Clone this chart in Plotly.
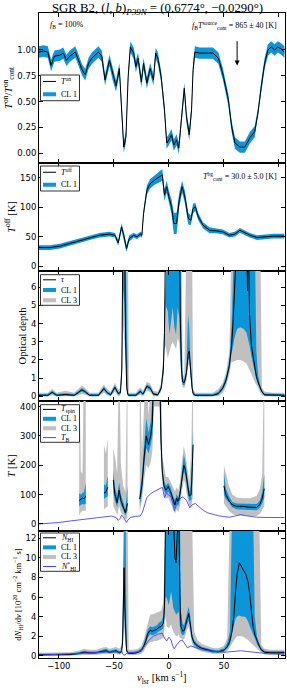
import plotly.graph_objects as go
from plotly.subplots import make_subplots

# ---------------- data ----------------
# Panel 1: T_on / T_on_cont
v_on = [-118, -114, -110, -107, -104, -99, -96, -93, -90, -85,
        -82, -79, -76, -73, -70, -64, -61, -58, -54, -51,
        -48, -45, -43, -41, -39, -37, -35, -32, -30, -28,
        -25, -23, -20, -17, -14, -12, -10, -7, -4, -2,
        0, 2.4, 4.5, 7, 9, 11, 14, 16, 18.5, 20.6,
        22, 23.6, 28, 34, 40, 45, 49, 54, 57, 60,
        64.5, 69, 73.6, 78, 81, 84, 87, 90, 93, 96,
        99, 102, 105]
ton = [0.98, 0.99, 0.98, 0.85, 0.94, 0.95, 0.97, 0.90, 0.94, 0.98,
       0.90, 0.81, 0.76, 0.87, 0.92, 0.98, 0.94, 0.71, 0.90, 0.76,
       0.65, 0.82, 0.42, 0.06, 0.16, 0.74, 1.03, 0.97, 0.84, 0.92,
       0.69, 0.87, 0.68, 0.82, 0.71, 0.97, 0.92, 0.74, 0.42, 0.10,
       0.13, 0.18, 0.08, 0.13, 0.05, 0.29, 0.63, 0.35, 0.18, 0.42,
       0.81, 0.98, 0.97, 0.97, 0.97, 0.92, 0.77, 0.52, 0.26, 0.10,
       0.06, 0.06, 0.15, 0.21, 0.39, 0.65, 0.87, 1.00, 1.03, 1.00,
       1.03, 1.01, 0.98]
ton_err = 0.055

# Panel 2: T_off
v_off = [-118, -108, -99, -90, -81, -72, -63, -54, -49, -46,
         -43, -41, -38.5, -36, -32, -29, -26, -24.5, -23, -20,
         -17, -13, -8, -6, -4, -2, 0, 2.4, 4.5, 7,
         9.4, 12, 14.5, 17.6, 20, 22, 24, 26.7, 31, 37,
         43, 49, 55, 60, 64.5, 69, 73.6, 80, 86, 95,
         105]
toff = [31.7, 31.7, 34, 38.5, 44, 48.7, 52.6, 54.4, 52.6, 39.6,
        66.8, 52.6, 30, 47, 52.6, 50, 54.4, 52.6, 89.5, 129,
        140, 146, 152, 155, 120.6, 134.8, 117.8, 100.8, 72.5, 72.5,
        112, 134.8, 117.8, 81, 78, 98, 100.8, 84, 69.6, 61,
        60, 58.3, 52.6, 54.4, 61, 56.6, 52.6, 48.7, 50, 51,
        51]
toff_err = [4, 4, 4, 4, 4, 4, 4, 4, 4, 5,
            6, 6, 6, 5, 4, 4, 4, 4, 6, 8,
            8, 8, 9, 10, 10, 10, 10, 12, 18, 18,
            12, 10, 10, 10, 8, 8, 7, 6, 5, 5,
            4, 4, 4, 4, 4, 4, 4, 4, 4, 4,
            4]

# Panel 3: optical depth
v_tau = [-118, -110, -106, -102, -94, -86, -82, -79, -76, -72,
         -64, -59, -56, -53, -49, -46, -44, -42.7, -41.8, -40.3,
         -39.3, -38.3, -37.3, -36.3, -30, -26, -23.5, -20, -17, -14,
         -10, -7, -5, -4, -3, -1, 0.5, 2, 3.5, 5,
         6.5, 8, 9.5, 10.5, 11.5, 12.5, 14, 16, 17.5, 18.5,
         19.5, 21, 22, 24, 40, 45, 49, 52, 55, 57,
         58.5, 59.5, 62, 65, 68, 70.5, 71.5, 72.3, 73.3, 75,
         76.5, 78, 79.5, 81, 83, 84.5, 87, 95, 105]
tau = [0.05, 0.05, 0.22, 0.05, 0.1, 0.05, 0.22, 0.35, 0.25, 0.05,
       0.05, 0.42, 0.2, 0.08, 0.5, 0.15, 0.2, 1.5, 9, 9,
       3.0, 0.5, 0.1, 0.05, 0.05, 0.27, 0.12, 0.55, 0.45, 0.12,
       0.08, 0.45, 1.5, 3.5, 9, 9, 9, 9, 9, 9,
       9, 9, 9, 4.0, 1.5, 0.8, 0.75, 1.3, 2.3, 2.5,
       1.5, 0.5, 0.15, 0.05, 0.05, 0.15, 0.45, 0.9, 1.7, 2.8,
       4.3, 9, 9, 9, 9, 9, 5.8, 9, 4.5, 2.8,
       2.2, 1.6, 1.1, 0.8, 0.45, 0.25, 0.08, 0.05, 0.05]
tau_cl1_lo = [0.0, 0.0, 0.15, 0.0, 0.03, 0.0, 0.15, 0.27, 0.17, 0.0,
              0.0, 0.33, 0.12, 0.02, 0.4, 0.08, 0.12, 1.1, 6, 5,
              2.2, 0.35, 0.03, 0.0, 0.0, 0.18, 0.05, 0.45, 0.35, 0.05,
              0.02, 0.35, 1.2, 3.0, 5.0, 4.7, 3.4, 4.1, 4.9, 3.8,
              3.4, 4.9, 4.3, 2.0, 1.0, 0.65, 0.6, 1.1, 2.0, 2.1,
              1.2, 0.4, 0.08, 0.0, 0.0, 0.08, 0.35, 0.75, 1.5, 2.4,
              2.8, 3.2, 3.7, 3.8, 3.7, 3.5, 3.3, 3.1, 2.8, 2.2,
              1.8, 1.3, 0.9, 0.65, 0.35, 0.17, 0.02, 0.0, 0.0]
tau_cl1_hi = [0.12, 0.12, 0.3, 0.12, 0.17, 0.12, 0.3, 0.45, 0.33, 0.12,
              0.12, 0.52, 0.28, 0.15, 0.6, 0.22, 0.3, 2.2, 9, 9,
              9, 4.3, 0.2, 0.12, 0.12, 0.36, 0.2, 0.65, 0.55, 0.2,
              0.15, 0.55, 1.9, 4.3, 9, 9, 9, 9, 9, 9,
              9, 9, 9, 9, 3.0, 1.0, 0.9, 1.6, 4.5, 3.8,
              2.0, 0.7, 0.25, 0.12, 0.12, 0.25, 0.6, 1.1, 2.0, 4.0,
              9, 9, 9, 9, 9, 9, 9, 9, 9, 9,
              9, 9, 2.5, 1.2, 0.6, 0.35, 0.15, 0.12, 0.12]
tau_cl3_lo = [0.0, 0.0, 0.05, 0.0, 0.0, 0.0, 0.05, 0.12, 0.08, 0.0,
              0.0, 0.2, 0.05, 0.0, 0.25, 0.0, 0.05, 0.9, 4, 3,
              1.6, 0.2, 0.0, 0.0, 0.0, 0.08, 0.0, 0.3, 0.22, 0.0,
              0.0, 0.25, 1.0, 2.5, 2.8, 2.1, 2.5, 2.8, 3.0, 2.8,
              2.6, 3.2, 2.9, 1.6, 0.8, 0.5, 0.45, 0.9, 1.7, 1.8,
              1.0, 0.25, 0.0, 0.0, 0.0, 0.0, 0.2, 0.55, 1.2, 1.9,
              1.9, 1.9, 2.0, 2.0, 1.9, 1.8, 1.7, 1.6, 1.5, 1.2,
              1.0, 0.8, 0.6, 0.45, 0.2, 0.08, 0.0, 0.0, 0.0]
tau_cl3_hi = [0.2, 0.2, 0.4, 0.2, 0.3, 0.2, 0.42, 0.6, 0.45, 0.2,
              0.2, 0.65, 0.4, 0.25, 0.75, 0.35, 0.45, 2.8, 9, 9,
              9, 9, 9, 0.2, 0.2, 0.5, 0.3, 0.8, 0.7, 0.3,
              0.25, 0.7, 2.3, 5.0, 9, 9, 9, 9, 9, 9,
              9, 9, 9, 9, 9, 1.2, 1.1, 9, 9, 9,
              9, 9, 0.4, 0.2, 0.2, 0.4, 0.75, 1.35, 2.5, 9,
              9, 9, 9, 9, 9, 9, 9, 9, 9, 9,
              9, 9, 9, 9, 9, 0.5, 0.25, 0.2, 0.2]

# Panel 4: spin temperature (None = no value) and T_B
v_ts = [-81.5, -80, -78.5, -77, -75.5, None,
        -59, -57.3, -55.5, None,
        -50.5, -49, -47, -45.2, -43.6, -41.5, -39.5, -37.6, None,
        -26.5, -24.5, -22.5, -20.5, -18.5, -16.5, -15, -13.5, -8.5, -7.3,
        -6, -4.5, -2.7, -0.6, 1.5, 3.3, 5.5, 7, 8.5, 10,
        11.8, 13.6, 15, 16.7, 18.5, 20.3, 22, None,
        50, 51.8, 54.5, 57.6, 61.5, 67.6, 73.6, 79.7, 82.7, 84.8, 86.7]
tspin = [80, 85, 88, 86, 95, None,
         105, 108, 125, None,
         150, 100, 72, 115, 80, 55, 38, 70, None,
         85, 130, 225, 300, 270, 300, 345, 600, 600, 300,
         180, 130, 115, 128, 110, 88, 65, 88, 75, 100,
         160, 200, 185, 135, 95, 100, 270, None,
         130, 100, 80, 65, 60, 60, 57, 56, 66, 88, 120]
ts_cl1_lo = [60, 65, 68, 66, 70, None,
             85, 90, 95, None,
             110, 80, 58, 90, 65, 45, 30, 45, None,
             60, 105, 195, 260, 240, 270, 300, 450, 450, 260,
             165, 115, 100, 110, 95, 75, 50, 70, 60, 85,
             140, 180, 165, 115, 80, 80, 200, None,
             100, 85, 70, 57, 50, 48, 48, 47, 55, 70, 90]
ts_cl1_hi = [105, 100, 105, 110, 140, None,
             135, 130, 165, None,
             185, 125, 95, 140, 100, 70, 50, 130, None,
             110, 165, 270, 360, 310, 350, 420, 600, 600, 360,
             200, 150, 130, 140, 125, 100, 80, 100, 90, 115,
             180, 235, 210, 150, 110, 140, 320, None,
             175, 120, 95, 75, 70, 70, 68, 68, 80, 110, 170]
ts_cl3_lo = [30, 40, 45, 45, 45, None,
             50, 55, 60, None,
             60, 50, 30, 60, 40, 30, 15, 20, None,
             40, 80, 150, 200, 190, 210, 250, 400, 400, 220,
             140, 95, 85, 90, 75, 55, 35, 50, 40, 60,
             110, 150, 135, 90, 60, 55, 100, None,
             70, 60, 45, 35, 28, 28, 27, 27, 35, 50, 60]
ts_cl3_hi = [600, 180, 170, 600, 600, None,
             270, 240, 290, None,
             260, 230, 170, 600, 200, 130, 110, 600, None,
             600, 240, 400, 600, 370, 600, 600, 600, 600, 600,
             230, 190, 160, 160, 145, 130, 110, 125, 115, 140,
             210, 265, 240, 180, 140, 250, 600, None,
             200, 170, 130, 100, 90, 88, 88, 95, 120, 170, 600]
v_tb = [-118, -110, -100, -90, -80, -70, -60, -52, -48, -46,
        -44, -43, -41.5, -40, -38.5, -37, -35, -30, -26, -24,
        -22, -20, -16, -12, -8, -6, -5, -4, -2, 0,
        2, 3.5, 5, 7, 10, 12, 14, 16, 18, 19,
        21, 24, 27, 30, 35, 40, 45, 50, 55, 60,
        65, 70, 75, 80, 90, 105]
tb = [0, 2, 5, 10, 15, 20, 24, 27, 22, 12,
      20, 30, 25, 12, 5, 15, 22, 26, 27, 40,
      70, 90, 105, 112, 120, 125, 110, 90, 105, 100,
      92, 70, 45, 65, 85, 92, 88, 80, 60, 55,
      65, 70, 60, 50, 38, 32, 28, 25, 23, 27,
      32, 28, 25, 23, 22, 22]

# Panel 5: HI column density per velocity
v_nhi = [-118, -100, -90, -82, -77, -72, -66, -60, -57, -54,
         -51, -48, -45, -43, -42, -41.3, -40.7, -40, -39.3, -38.5,
         -37.5, -36.5, -32, -28, -25, -23, -21, -19, -17, -15,
         -13, -11, -9, -7, -5, -4, -3, -2, 0, 2,
         4, 5.5, 6.5, 7.5, 9, 10, 11, 12.5, 14, 16,
         18, 19.5, 21, 23, 26, 30, 35, 40, 45, 50,
         53, 55.5, 57.5, 59, 60.5, 62, 64, 66, 68, 70,
         72, 73.5, 75, 76.5, 78, 80, 82, 84, 87, 92,
         105]
nhi = [0.10, 0.10, 0.12, 0.22, 0.35, 0.30, 0.30, 0.45, 0.50, 0.35,
       0.45, 0.50, 0.30, 0.40, 1.5, 5.0, 9.0, 5.0, 2.0, 0.6,
       0.3, 0.25, 0.25, 0.35, 0.55, 0.9, 1.5, 2.3, 2.6, 2.5,
       2.6, 2.7, 2.9, 3.0, 3.3, 5.0, 15, 15, 15, 15,
       15, 10, 9.5, 12, 15, 6, 3.0, 2.5, 2.6, 3.5,
       4.3, 3.2, 1.9, 1.3, 1.0, 0.75, 0.6, 0.45, 0.4, 0.55,
       0.9, 1.5, 2.6, 4.0, 6.5, 8.3, 9.5, 9.1, 8.8, 8.3,
       7.5, 6.3, 4.5, 3.0, 2.2, 1.5, 1.0, 0.6, 0.35, 0.3,
       0.3]
nhi_cl1_lo = [0.03, 0.03, 0.04, 0.12, 0.22, 0.18, 0.2, 0.3, 0.35, 0.25,
              0.3, 0.35, 0.2, 0.3, 1.0, 3.0, 5.0, 3.0, 1.3, 0.45,
              0.2, 0.15, 0.15, 0.25, 0.4, 0.7, 1.2, 1.9, 2.2, 2.1,
              2.2, 2.3, 2.5, 2.6, 2.8, 4.0, 6.0, 5.9, 5.2, 6.6,
              4.9, 4.5, 4.2, 4.3, 4.5, 3.0, 2.3, 2.1, 2.2, 3.0,
              3.6, 2.7, 1.6, 1.1, 0.8, 0.6, 0.45, 0.3, 0.3, 0.4,
              0.7, 1.2, 2.0, 3.0, 3.8, 4.0, 4.1, 4.0, 4.0, 3.9,
              3.5, 3.0, 2.5, 2.2, 1.8, 1.2, 0.8, 0.45, 0.25, 0.2,
              0.2]
nhi_cl1_hi = [0.2, 0.2, 0.22, 0.35, 0.5, 0.42, 0.42, 0.6, 0.7, 0.5,
              0.6, 0.65, 0.45, 0.6, 3.0, 15, 15, 15, 15, 1.0,
              0.45, 0.4, 0.4, 0.5, 0.75, 1.2, 1.9, 2.7, 3.0, 2.9,
              3.0, 3.1, 3.4, 3.5, 4.0, 8, 15, 15, 15, 15,
              15, 15, 15, 15, 15, 15, 4.5, 3.2, 3.2, 4.2,
              5.0, 4.0, 2.3, 1.6, 1.2, 0.9, 0.75, 0.6, 0.55, 0.75,
              1.3, 2.5, 15, 15, 15, 15, 15, 15, 15, 15,
              15, 15, 15, 15, 4.0, 2.0, 1.3, 0.8, 0.5, 0.45,
              0.45]
nhi_cl3_lo = [0.0, 0.0, 0.0, 0.05, 0.1, 0.08, 0.1, 0.15, 0.2, 0.15,
              0.2, 0.2, 0.1, 0.2, 0.8, 2.0, 3.0, 2.0, 1.0, 0.3,
              0.1, 0.05, 0.05, 0.1, 0.2, 0.4, 0.9, 1.2, 1.4, 1.4,
              1.5, 1.5, 1.6, 1.7, 1.8, 3.0, 4.0, 3.0, 2.8, 3.2,
              2.5, 2.2, 2.0, 2.0, 2.2, 1.8, 1.8, 1.6, 1.7, 2.5,
              3.0, 2.2, 1.3, 0.8, 0.6, 0.4, 0.3, 0.2, 0.2, 0.25,
              0.5, 0.9, 1.3, 1.5, 1.8, 2.0, 2.0, 2.0, 1.9, 1.8,
              1.6, 1.4, 1.2, 1.0, 0.9, 0.7, 0.5, 0.3, 0.1, 0.1,
              0.1]
nhi_cl3_hi = [0.3, 0.3, 0.35, 0.5, 0.7, 0.6, 0.6, 0.85, 0.9, 0.7,
              0.8, 0.9, 0.7, 1.0, 5, 15, 15, 15, 15, 15,
              15, 0.6, 0.6, 0.7, 1.0, 1.6, 2.5, 3.5, 4.2, 4.2,
              4.3, 4.4, 4.5, 4.6, 5.5, 12, 15, 15, 15, 15,
              15, 15, 15, 15, 15, 15, 15, 15, 15, 15,
              15, 15, 15, 2.5, 1.6, 1.2, 1.0, 0.8, 0.75, 1.0,
              1.8, 15, 15, 15, 15, 15, 15, 15, 15, 15,
              15, 15, 15, 15, 15, 15, 15, 1.1, 0.7, 0.6,
              0.6]
v_nstar = [-118, -100, -80, -60, -50, -45, -43, -41.5, -40, -38,
           -30, -25, -22, -18, -14, -10, -6, -4, -2, 0,
           2, 3.5, 5, 7, 10, 12, 14, 17, 20, 23,
           30, 40, 50, 60, 65, 70, 80, 90, 105]
nstar = [0.05, 0.12, 0.25, 0.35, 0.4, 0.35, 0.5, 0.1, 0.05, 0.3,
         0.35, 0.5, 1.0, 1.6, 2.0, 2.2, 2.3, 1.8, 1.5, 1.9,
         1.6, 1.0, 0.7, 1.1, 1.5, 1.6, 1.3, 0.8, 1.0, 0.9,
         0.6, 0.45, 0.35, 0.45, 0.5, 0.45, 0.3, 0.2, 0.15]

arrow_v = 62
x_ticks = [-100, -50, 0, 50, 100]

# ---------------- styling ----------------
BLUE = "#0a96d8"
GRAY = "#c0c0c0"
VIOLET = "#4545ff"
SERIF = "Liberation Serif"
SANS = "DejaVu Sans"

W, H = 287, 688
ML, MR, MT, MB = 39, 2, 13, 30
PW, PH = W - ML - MR, H - MT - MB


def px_x(x):
    return (x - ML) / PW


def px_y(y):
    return (H - MB - y) / PH


fig = make_subplots(rows=5, cols=1, shared_xaxes=True, vertical_spacing=0,
                    row_heights=[150, 108, 130, 130, 127])


def band(row, v, lo, hi, color):
    segs, cur = [], []
    for a, b, c in zip(v, lo, hi):
        if a is None or b is None or c is None:
            if cur:
                segs.append(cur)
            cur = []
        else:
            cur.append((a, b, c))
    if cur:
        segs.append(cur)
    xs, ys = [], []
    for s in segs:
        xs += [p[0] for p in s] + [p[0] for p in reversed(s)] + [None]
        ys += [p[2] for p in s] + [p[1] for p in reversed(s)] + [None]
    fig.add_trace(go.Scatter(x=xs, y=ys, mode="lines", fill="toself",
                             fillcolor=color, line=dict(width=0, color=color),
                             hoverinfo="skip", showlegend=False), row=row, col=1)


def line(row, v, y, color, width=1.0):
    fig.add_trace(go.Scatter(x=v, y=y, mode="lines", line=dict(color=color, width=width),
                             showlegend=False), row=row, col=1)


# Panel 1
band(1, v_on, [t - ton_err for t in ton], [t + ton_err for t in ton], BLUE)
line(1, v_on, ton, "black")
# Panel 2
band(2, v_off, [t - e for t, e in zip(toff, toff_err)], [t + e for t, e in zip(toff, toff_err)], BLUE)
line(2, v_off, toff, "black")
# Panel 3
band(3, v_tau, tau_cl3_lo, tau_cl3_hi, GRAY)
band(3, v_tau, tau_cl1_lo, tau_cl1_hi, BLUE)
line(3, v_tau, tau, "black")
# Panel 4
band(4, v_ts, ts_cl3_lo, ts_cl3_hi, GRAY)
band(4, v_ts, ts_cl1_lo, ts_cl1_hi, BLUE)
line(4, v_ts, tspin, "black")
line(4, v_tb, tb, VIOLET, 0.9)
# Panel 5
band(5, v_nhi, nhi_cl3_lo, nhi_cl3_hi, GRAY)
band(5, v_nhi, nhi_cl1_lo, nhi_cl1_hi, BLUE)
line(5, v_nhi, nhi, "black")
line(5, v_nstar, nstar, VIOLET, 0.9)

# axes
axis_common = dict(showline=True, linecolor="black", linewidth=1, mirror="ticks",
                   ticks="inside", ticklen=4, tickcolor="black", tickwidth=1,
                   showgrid=False, zeroline=False,
                   tickfont=dict(family=SANS, size=8.5, color="black"))
for r in range(1, 6):
    fig.update_xaxes(range=[-118, 105.5], tickvals=x_ticks, row=r, col=1, **axis_common)

ytitle_font = dict(family=SERIF, size=10.5, color="black")
fig.update_yaxes(range=[-0.094, 1.358], tickvals=[0, 0.25, 0.5, 0.75, 1.0], tickformat=".2f",
                 title=dict(text="<i>T</i><sup>on</sup>/<i>T</i><sup>on</sup><sub>cont</sub>",
                            font=ytitle_font, standoff=2), row=1, col=1, **axis_common)
fig.update_yaxes(range=[-8, 175], tickvals=[0, 50, 100, 150],
                 title=dict(text="<i>T</i><sup>off</sup> [K]", font=ytitle_font, standoff=2),
                 row=2, col=1, **axis_common)
fig.update_yaxes(range=[-0.26, 6.9], tickvals=[0, 1, 2, 3, 4, 5, 6],
                 title=dict(text="Optical depth", font=ytitle_font, standoff=2),
                 row=3, col=1, **axis_common)
fig.update_yaxes(range=[-24, 419], tickvals=[0, 100, 200, 300, 400],
                 title=dict(text="<i>T</i> [K]", font=ytitle_font, standoff=2),
                 row=4, col=1, **axis_common)
fig.update_yaxes(range=[-0.235, 12.75], tickvals=[0, 2, 4, 6, 8, 10, 12],
                 title=dict(text="d<i>N</i><sub>HI</sub>/d<i>v</i> [10<sup>20</sup> cm<sup>−2</sup> km<sup>−1</sup> s]",
                            font=dict(family=SERIF, size=8.5, color="black"), standoff=2),
                 row=5, col=1, **axis_common)

fig.update_layout(
    width=W, height=H, margin=dict(l=ML, r=MR, t=MT, b=MB),
    plot_bgcolor="white", paper_bgcolor="white", showlegend=False,
    title=dict(text="SGR B2, (<i>l</i>, <i>b</i>)<sub><i>P39N</i></sub> = (0.6774°, −0.0290°)",
               x=px_x(157.5), xref="paper", xanchor="center",
               y=1 - 7.5 / H, yref="container", yanchor="middle",
               font=dict(family=SERIF, size=12.8, color="black")),
)

# x-axis title (as annotation so it stays inside the page)
fig.add_annotation(xref="paper", yref="paper", x=px_x(162), y=px_y(678), xanchor="center",
                   yanchor="middle", showarrow=False,
                   text="<i>v</i><sub>lsr</sub> [km s<sup>−1</sup>]",
                   font=dict(family=SERIF, size=10.5, color="black"))

# text annotations
ann_font = dict(family=SERIF, size=8, color="black")
fig.add_annotation(xref="paper", yref="paper", x=px_x(48), y=px_y(25), xanchor="left", yanchor="middle",
                   text="<i>f</i><sub>B</sub> = 100%", showarrow=False, font=ann_font)
fig.add_annotation(xref="paper", yref="paper", x=px_x(279), y=px_y(25), xanchor="right", yanchor="middle",
                   text="<i>f</i><sub>B</sub><i>T</i><sup>source</sup><sub>cont</sub> = 865 ± 40 [K]",
                   showarrow=False, font=ann_font)
fig.add_annotation(xref="paper", yref="paper", x=px_x(279), y=px_y(176), xanchor="right", yanchor="middle",
                   text="<i>T</i><sup>bg</sup><sub>cont</sub> = 30.0 ± 5.0 [K]",
                   showarrow=False, font=ann_font)
fig.add_annotation(xref="x", yref="y", x=arrow_v, y=0.85, axref="x", ayref="y", ax=arrow_v, ay=1.10,
                   text="", showarrow=True, arrowhead=2, arrowsize=1, arrowwidth=1, arrowcolor="black")


def add_legend(top, bottom, items):
    fig.add_shape(type="rect", xref="paper", yref="paper", x0=px_x(40.5), x1=px_x(79.5),
                  y0=px_y(bottom), y1=px_y(top), line=dict(color="#333333", width=1),
                  fillcolor="white", layer="above")
    n = len(items)
    for i, (label, color, w) in enumerate(items):
        yc = top + (bottom - top) * (i + 0.5) / n
        fig.add_shape(type="line", xref="paper", yref="paper", x0=px_x(43), x1=px_x(56),
                      y0=px_y(yc), y1=px_y(yc), line=dict(color=color, width=w), layer="above")
        fig.add_annotation(xref="paper", yref="paper", x=px_x(58.5), y=px_y(yc), text=label,
                           showarrow=False, xanchor="left", yanchor="middle",
                           font=dict(family=SERIF, size=8, color="black"))


add_legend(75, 100.7, [("<i>T</i><sup>on</sup>", "black", 1), ("CL 1", BLUE, 4)])
add_legend(166, 191, [("<i>T</i><sup>off</sup>", "black", 1), ("CL 1", BLUE, 4)])
add_legend(274.7, 305.3, [("<i>τ</i>", "black", 1), ("CL 1", BLUE, 4), ("CL 3", GRAY, 4)])
add_legend(404.7, 442.3, [("<i>T</i><sub>spin</sub>", "black", 1), ("CL 1", BLUE, 4),
                          ("CL 3", GRAY, 4), ("<i>T</i><sub>B</sub>", VIOLET, 1)])
add_legend(533, 571.3, [("<i>N</i><sub>HI</sub>", "black", 1), ("CL 1", BLUE, 4),
                        ("CL 3", GRAY, 4), ("<i>N</i><sup>*</sup><sub>HI</sub>", VIOLET, 1)])

fig.write_html("out.html", config={"displayModeBar": False},
               post_script="document.body.style.margin='0px';")
